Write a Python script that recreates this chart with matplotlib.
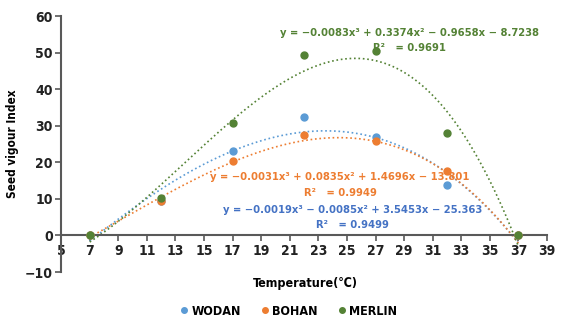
import numpy as np
import matplotlib.pyplot as plt

plt.rcParams['font.family'] = ['DejaVu Sans']

temp = [7, 12, 17, 22, 27, 32, 37]
wodan = [0, 9.5, 23.0, 32.5, 26.8, 13.7, 0]
bohan = [0, 9.4, 20.4, 27.5, 25.9, 17.6, 0]
merlin = [0, 10.3, 30.7, 49.2, 50.3, 28.0, 0]

# cubic trendline coefficients as printed on the chart
wodan_fit = [-0.0019, -0.0085, 3.5453, -25.363]
bohan_fit = [-0.0031, 0.0835, 1.4696, -13.801]
merlin_fit = [-0.0083, 0.3374, -0.9658, -8.7238]

series = [
    ('WODAN', wodan, wodan_fit, '#5B9BD5'),
    ('BOHAN', bohan, bohan_fit, '#ED7D31'),
    ('MERLIN', merlin, merlin_fit, '#548235'),
]

fig = plt.figure(figsize=(5.61, 3.2), dpi=100)
ax = fig.add_axes([0.109, 0.15, 0.866, 0.80])

xs = np.linspace(7, 37, 200)
for name, vals, fit, col in series:
    ax.plot(temp, vals, 'o', color=col, ms=5, label=name, zorder=3)
    ax.plot(xs, np.polyval(fit, xs), ':', color=col, lw=1.2, zorder=2)

ax.set_xlim(5, 39)
ax.set_ylim(-10, 60)
ax.set_xticks(range(5, 40, 2))
ax.set_yticks(range(-10, 61, 10))
ax.set_yticklabels(['\u221210'] + [str(v) for v in range(0, 61, 10)])

for s in ['top', 'right']:
    ax.spines[s].set_visible(False)
ax.spines['bottom'].set_position(('data', 0))
for s in ['left', 'bottom']:
    ax.spines[s].set_color('#595959')
    ax.spines[s].set_linewidth(1.5)
ax.tick_params(axis='both', direction='out', length=4, width=1.2,
               color='#595959', labelsize=10, pad=2)
for lab in ax.get_xticklabels() + ax.get_yticklabels():
    lab.set_fontweight('bold')
    lab.set_fontstretch('condensed')
    lab.set_color('#222222')

ax.set_ylabel('Seed vigour Index', fontsize=8.5, fontweight='bold',
              fontstretch='condensed', labelpad=4)
fig.text(0.545, 0.115, 'Temperature(\u2103)', ha='center', va='center',
         fontsize=9, fontweight='bold', fontstretch='condensed')

eq_style = dict(transform=ax.transAxes, ha='center', va='center', fontsize=8,
                fontweight='bold', fontstretch='condensed')

ax.text(0.716, 0.934, 'y = \u22120.0083x\u00b3 + 0.3374x\u00b2 \u2212 0.9658x \u2212 8.7238',
        color='#548235', **eq_style)
ax.text(0.716, 0.875, 'R\u00b2   = 0.9691', color='#548235', **eq_style)

ax.text(0.573, 0.371, 'y = \u22120.0031x\u00b3 + 0.0835x\u00b2 + 1.4696x \u2212 13.801',
        color='#ED7D31', **eq_style)
ax.text(0.574, 0.309, 'R\u00b2   = 0.9949', color='#ED7D31', **eq_style)

ax.text(0.599, 0.242, 'y = \u22120.0019x\u00b3 \u2212 0.0085x\u00b2 + 3.5453x \u2212 25.363',
        color='#4472C4', **eq_style)
ax.text(0.60, 0.184, 'R\u00b2   = 0.9499', color='#4472C4', **eq_style)

fig.legend(loc='center', bbox_to_anchor=(0.515, 0.027), ncol=3, frameon=False,
           handlelength=0.6, handletextpad=0.3, columnspacing=1.6,
           markerscale=0.8, prop={'weight': 'bold', 'size': 9, 'stretch': 'condensed'})

fig.savefig('out.png', dpi=100)
